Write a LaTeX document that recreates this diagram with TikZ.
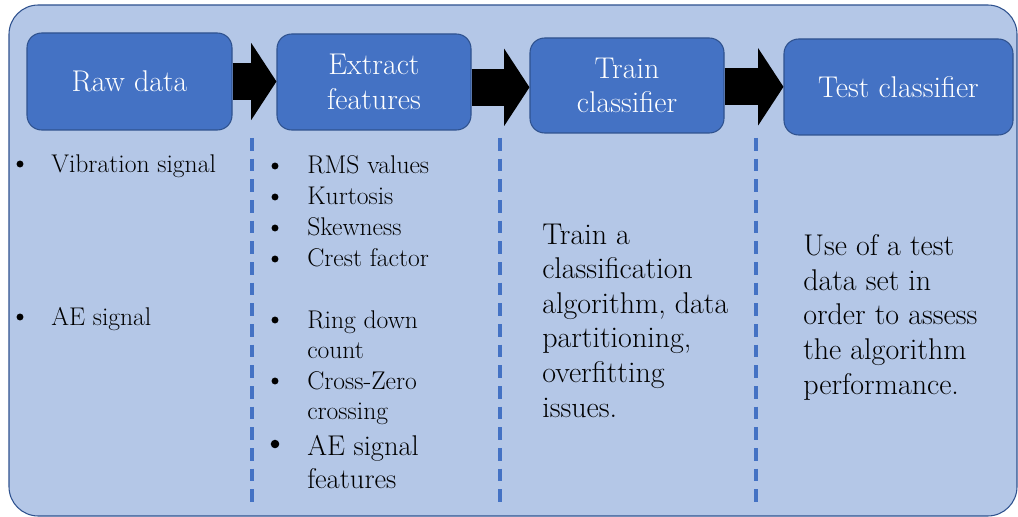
\documentclass[tikz,border=0pt]{standalone}
\usetikzlibrary{arrows.meta}

\definecolor{paneblue}{HTML}{B4C7E7}
\definecolor{boxblue}{HTML}{4472C4}
\definecolor{edgeblue}{HTML}{2F528F}

\tikzset{
  stepbox/.style={draw=edgeblue,fill=boxblue,line width=0.8pt,rounded corners=11pt,
    text=white,align=center,inner sep=0pt,font=\fontsize{22.5}{26}\selectfont},
  flow/.style={line width=28pt,-{Triangle[length=19pt,width=58pt,line width=0pt]}},
  sep/.style={boxblue,line width=2.4pt,dash pattern=on 9.5pt off 6pt},
  item/.style={anchor=base west,inner sep=0pt,font=\fontsize{19.2}{23}\selectfont},
  bigitem/.style={item,font=\fontsize{21.4}{25}\selectfont},
  % base of a multi-line node sits on its last line
  para/.style={anchor=base west,inner sep=0pt,align=left,font=\fontsize{22.5}{25.9}\selectfont}
}
\newcommand{\dotat}[2][2.6pt]{\fill (#2) circle (#1);}

\begin{document}
\begin{tikzpicture}[x=0.75pt,y=-0.75pt]
\useasboundingbox (0,0) rectangle (1018,517);
\draw[edgeblue,fill=paneblue,line width=0.8pt,rounded corners=22pt] (9,5) rectangle (1017,516);

% the four steps
\node[stepbox,minimum width=153.75pt,minimum height=72.75pt] (raw) at (129.5,81.5) {Raw data};
\node[stepbox,minimum width=145.5pt,minimum height=72pt] (feat) at (374,82) {Extract\\features};
\node[stepbox,minimum width=145.5pt,minimum height=71.25pt] (train) at (627,85.5) {Train\\classifier};
\node[stepbox,minimum width=171.75pt,minimum height=72pt] (test) at (898.5,87) {Test classifier};

\draw[flow] (raw.east) -- (raw.east -| feat.west);
\draw[flow] ([yshift=-4pt]feat.east) -- ([yshift=-4pt]feat.east -| train.west);
\draw[flow] ([yshift=-1pt]train.east) -- ([yshift=-1pt]train.east -| test.west);

% column separators
\draw[sep] (252,138) -- (252,508);
\draw[sep] (500,138) -- (500,508);
\draw[sep] (756,138) -- (756,508);

% raw data
\dotat{20,164}
\node[item] (vib) at (51,172) {Vibration signal};
\dotat{20,317}
\node[item] (ae) at (51,325) {AE signal};

% features
\dotat{275,166}
\node[item] (rms) at (307,173) {RMS values};
\dotat{275,197}
\node[item] (kurt) at (307,204) {Kurtosis};
\dotat{275,228}
\node[item] (skew) at (307,235) {Skewness};
\dotat{275,259}
\node[item] (crest) at (307,266) {Crest factor};
\dotat{275,320}
\node[item] (ring) at (307,328) {Ring down};
\node[item] (count) at (307,358) {count};
\dotat{275,381}
\node[item] (zero) at (307,389) {Cross-Zero};
\node[item] (cross) at (307,419) {crossing};
\dotat[3.2pt]{275,444}
\node[bigitem] (aesig) at (307,455) {AE signal};
\node[bigitem] (aefeat) at (307,488) {features};

% training and testing notes
\node[para] (trainnote) at (542,417) {Train a\\classification\\algorithm, data\\partitioning,\\overfitting\\issues.};
\node[para] (testnote) at (803,394) {Use of a test\\data set in\\order to assess\\the algorithm\\performance.};
\end{tikzpicture}
\end{document}
